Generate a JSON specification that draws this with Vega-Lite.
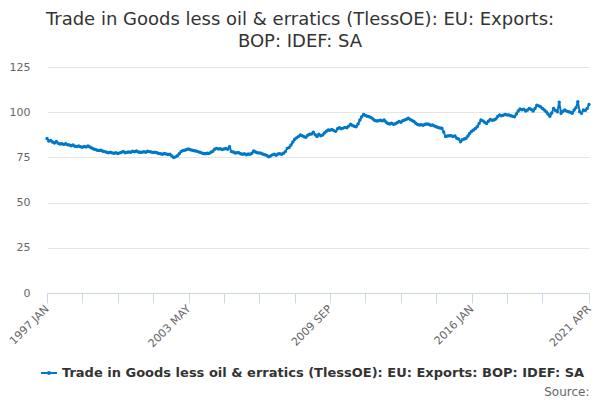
{
  "$schema": "https://vega.github.io/schema/vega-lite/v6.json",
  "width": 542,
  "height": 226,
  "autosize": "none",
  "padding": {"left": 47, "top": 67, "right": 11, "bottom": 107},
  "background": "white",
  "config": {"view": {"stroke": null}, "font": "DejaVu Sans"},
  "title": {
    "text": ["Trade in Goods less oil & erratics (TlessOE): EU: Exports:", "BOP: IDEF: SA"],
    "fontSize": 18, "fontWeight": "normal", "color": "#333333", "font": "DejaVu Sans",
    "anchor": "middle", "dx": -18, "lineHeight": 22, "offset": 10
  },
  "data": {"values": [
{"t":"1997 JAN","v":85.5},{"t":"1997 FEB","v":84},{"t":"1997 MAR","v":84.3},{"t":"1997 APR","v":83.5},{"t":"1997 MAY","v":83},{"t":"1997 JUN","v":83.8},{"t":"1997 JUL","v":82.8},{"t":"1997 AUG","v":82.4},{"t":"1997 SEP","v":82.6},{"t":"1997 OCT","v":82.2},{"t":"1997 NOV","v":82.5},{"t":"1997 DEC","v":82.0},
{"t":"1998 JAN","v":81.8},{"t":"1998 FEB","v":81.5},{"t":"1998 MAR","v":81.8},{"t":"1998 APR","v":81.2},{"t":"1998 MAY","v":81.0},{"t":"1998 JUN","v":81.3},{"t":"1998 JUL","v":80.9},{"t":"1998 AUG","v":80.6},{"t":"1998 SEP","v":81.0},{"t":"1998 OCT","v":80.8},{"t":"1998 NOV","v":81.3},{"t":"1998 DEC","v":80.7},
{"t":"1999 JAN","v":80.2},{"t":"1999 FEB","v":79.6},{"t":"1999 MAR","v":79.4},{"t":"1999 APR","v":79.0},{"t":"1999 MAY","v":78.8},{"t":"1999 JUN","v":78.9},{"t":"1999 JUL","v":78.4},{"t":"1999 AUG","v":78.2},{"t":"1999 SEP","v":77.9},{"t":"1999 OCT","v":77.6},{"t":"1999 NOV","v":77.8},{"t":"1999 DEC","v":77.5},
{"t":"2000 JAN","v":77.3},{"t":"2000 FEB","v":77.6},{"t":"2000 MAR","v":77.1},{"t":"2000 APR","v":77.5},{"t":"2000 MAY","v":77.8},{"t":"2000 JUN","v":78.3},{"t":"2000 JUL","v":77.6},{"t":"2000 AUG","v":77.9},{"t":"2000 SEP","v":78.0},{"t":"2000 OCT","v":77.8},{"t":"2000 NOV","v":78.4},{"t":"2000 DEC","v":78.1},
{"t":"2001 JAN","v":78.5},{"t":"2001 FEB","v":78.0},{"t":"2001 MAR","v":77.8},{"t":"2001 APR","v":77.8},{"t":"2001 MAY","v":78.1},{"t":"2001 JUN","v":77.9},{"t":"2001 JUL","v":78.4},{"t":"2001 AUG","v":78.2},{"t":"2001 SEP","v":78.0},{"t":"2001 OCT","v":77.7},{"t":"2001 NOV","v":77.9},{"t":"2001 DEC","v":77.6},
{"t":"2002 JAN","v":77.2},{"t":"2002 FEB","v":77.0},{"t":"2002 MAR","v":76.7},{"t":"2002 APR","v":77.1},{"t":"2002 MAY","v":76.9},{"t":"2002 JUN","v":76.6},{"t":"2002 JUL","v":76.7},{"t":"2002 AUG","v":75.8},{"t":"2002 SEP","v":75.0},{"t":"2002 OCT","v":75.3},{"t":"2002 NOV","v":75.9},{"t":"2002 DEC","v":77.0},
{"t":"2003 JAN","v":78.2},{"t":"2003 FEB","v":78.8},{"t":"2003 MAR","v":79.0},{"t":"2003 APR","v":79.4},{"t":"2003 MAY","v":79.6},{"t":"2003 JUN","v":79.2},{"t":"2003 JUL","v":78.9},{"t":"2003 AUG","v":78.7},{"t":"2003 SEP","v":78.5},{"t":"2003 OCT","v":78.2},{"t":"2003 NOV","v":77.8},{"t":"2003 DEC","v":77.5},
{"t":"2004 JAN","v":77.2},{"t":"2004 FEB","v":77.0},{"t":"2004 MAR","v":77.3},{"t":"2004 APR","v":77.1},{"t":"2004 MAY","v":77.8},{"t":"2004 JUN","v":78.4},{"t":"2004 JUL","v":79.5},{"t":"2004 AUG","v":80.0},{"t":"2004 SEP","v":79.7},{"t":"2004 OCT","v":79.8},{"t":"2004 NOV","v":79.4},{"t":"2004 DEC","v":79.6},
{"t":"2005 JAN","v":79.9},{"t":"2005 FEB","v":79.5},{"t":"2005 MAR","v":80.9},{"t":"2005 APR","v":78.2},{"t":"2005 MAY","v":78.0},{"t":"2005 JUN","v":77.4},{"t":"2005 JUL","v":77.6},{"t":"2005 AUG","v":77.6},{"t":"2005 SEP","v":77.0},{"t":"2005 OCT","v":76.7},{"t":"2005 NOV","v":77.0},{"t":"2005 DEC","v":76.5},
{"t":"2006 JAN","v":76.9},{"t":"2006 FEB","v":76.7},{"t":"2006 MAR","v":77.3},{"t":"2006 APR","v":78.5},{"t":"2006 MAY","v":78.0},{"t":"2006 JUN","v":77.6},{"t":"2006 JUL","v":77.5},{"t":"2006 AUG","v":77.3},{"t":"2006 SEP","v":76.8},{"t":"2006 OCT","v":76.5},{"t":"2006 NOV","v":76.0},{"t":"2006 DEC","v":75.4},
{"t":"2007 JAN","v":75.8},{"t":"2007 FEB","v":76.4},{"t":"2007 MAR","v":76.7},{"t":"2007 APR","v":76.2},{"t":"2007 MAY","v":76.9},{"t":"2007 JUN","v":77.0},{"t":"2007 JUL","v":76.8},{"t":"2007 AUG","v":77.3},{"t":"2007 SEP","v":78.2},{"t":"2007 OCT","v":80.0},{"t":"2007 NOV","v":80.5},{"t":"2007 DEC","v":81.9},
{"t":"2008 JAN","v":83.5},{"t":"2008 FEB","v":85.0},{"t":"2008 MAR","v":85.8},{"t":"2008 APR","v":86.5},{"t":"2008 MAY","v":87.4},{"t":"2008 JUN","v":87.0},{"t":"2008 JUL","v":86.4},{"t":"2008 AUG","v":86.1},{"t":"2008 SEP","v":87.2},{"t":"2008 OCT","v":87.8},{"t":"2008 NOV","v":88.0},{"t":"2008 DEC","v":88.9},
{"t":"2009 JAN","v":87.5},{"t":"2009 FEB","v":86.5},{"t":"2009 MAR","v":87.8},{"t":"2009 APR","v":87.0},{"t":"2009 MAY","v":87.4},{"t":"2009 JUN","v":88.5},{"t":"2009 JUL","v":89.5},{"t":"2009 AUG","v":90.2},{"t":"2009 SEP","v":90.0},{"t":"2009 OCT","v":90.5},{"t":"2009 NOV","v":89.8},{"t":"2009 DEC","v":89.4},
{"t":"2010 JAN","v":90.8},{"t":"2010 FEB","v":91.4},{"t":"2010 MAR","v":90.9},{"t":"2010 APR","v":91.2},{"t":"2010 MAY","v":91.6},{"t":"2010 JUN","v":91.4},{"t":"2010 JUL","v":92.3},{"t":"2010 AUG","v":93.3},{"t":"2010 SEP","v":92.6},{"t":"2010 OCT","v":92.2},{"t":"2010 NOV","v":92.0},{"t":"2010 DEC","v":93.5},
{"t":"2011 JAN","v":95.7},{"t":"2011 FEB","v":97.5},{"t":"2011 MAR","v":98.8},{"t":"2011 APR","v":98.2},{"t":"2011 MAY","v":97.8},{"t":"2011 JUN","v":97.5},{"t":"2011 JUL","v":97.0},{"t":"2011 AUG","v":96.2},{"t":"2011 SEP","v":95.4},{"t":"2011 OCT","v":95.1},{"t":"2011 NOV","v":95.3},{"t":"2011 DEC","v":95.5},
{"t":"2012 JAN","v":95.2},{"t":"2012 FEB","v":95.7},{"t":"2012 MAR","v":94.6},{"t":"2012 APR","v":93.8},{"t":"2012 MAY","v":93.5},{"t":"2012 JUN","v":93.9},{"t":"2012 JUL","v":93.3},{"t":"2012 AUG","v":93.6},{"t":"2012 SEP","v":94.2},{"t":"2012 OCT","v":94.8},{"t":"2012 NOV","v":94.5},{"t":"2012 DEC","v":95.3},
{"t":"2013 JAN","v":95.7},{"t":"2013 FEB","v":96.1},{"t":"2013 MAR","v":96.6},{"t":"2013 APR","v":96.0},{"t":"2013 MAY","v":95.4},{"t":"2013 JUN","v":94.8},{"t":"2013 JUL","v":93.9},{"t":"2013 AUG","v":93.2},{"t":"2013 SEP","v":92.9},{"t":"2013 OCT","v":93.0},{"t":"2013 NOV","v":92.8},{"t":"2013 DEC","v":93.3},
{"t":"2014 JAN","v":93.5},{"t":"2014 FEB","v":93.3},{"t":"2014 MAR","v":92.8},{"t":"2014 APR","v":92.9},{"t":"2014 MAY","v":92.4},{"t":"2014 JUN","v":91.9},{"t":"2014 JUL","v":91.5},{"t":"2014 AUG","v":91.3},{"t":"2014 SEP","v":91.1},{"t":"2014 OCT","v":89.0},{"t":"2014 NOV","v":86.5},{"t":"2014 DEC","v":86.8},
{"t":"2015 JAN","v":87.0},{"t":"2015 FEB","v":87.0},{"t":"2015 MAR","v":86.6},{"t":"2015 APR","v":86.9},{"t":"2015 MAY","v":85.6},{"t":"2015 JUN","v":85.2},{"t":"2015 JUL","v":83.7},{"t":"2015 AUG","v":84.8},{"t":"2015 SEP","v":85.2},{"t":"2015 OCT","v":85.6},{"t":"2015 NOV","v":86.8},{"t":"2015 DEC","v":88.3},
{"t":"2016 JAN","v":89.5},{"t":"2016 FEB","v":90.2},{"t":"2016 MAR","v":91.0},{"t":"2016 APR","v":92.0},{"t":"2016 MAY","v":93.8},{"t":"2016 JUN","v":95.7},{"t":"2016 JUL","v":95.2},{"t":"2016 AUG","v":94.5},{"t":"2016 SEP","v":93.8},{"t":"2016 OCT","v":95.0},{"t":"2016 NOV","v":96.0},{"t":"2016 DEC","v":95.6},
{"t":"2017 JAN","v":95.7},{"t":"2017 FEB","v":96.3},{"t":"2017 MAR","v":97.6},{"t":"2017 APR","v":98.5},{"t":"2017 MAY","v":98.0},{"t":"2017 JUN","v":98.3},{"t":"2017 JUL","v":98.8},{"t":"2017 AUG","v":98.4},{"t":"2017 SEP","v":98.5},{"t":"2017 OCT","v":98.0},{"t":"2017 NOV","v":97.8},{"t":"2017 DEC","v":97.5},
{"t":"2018 JAN","v":99.0},{"t":"2018 FEB","v":100.7},{"t":"2018 MAR","v":101.8},{"t":"2018 APR","v":101.3},{"t":"2018 MAY","v":101.7},{"t":"2018 JUN","v":100.7},{"t":"2018 JUL","v":101.2},{"t":"2018 AUG","v":102.1},{"t":"2018 SEP","v":101.5},{"t":"2018 OCT","v":100.7},{"t":"2018 NOV","v":102.0},{"t":"2018 DEC","v":103.8},
{"t":"2019 JAN","v":103.5},{"t":"2019 FEB","v":103.0},{"t":"2019 MAR","v":102.1},{"t":"2019 APR","v":101.2},{"t":"2019 MAY","v":100.3},{"t":"2019 JUN","v":99.0},{"t":"2019 JUL","v":97.8},{"t":"2019 AUG","v":99.5},{"t":"2019 SEP","v":102.1},{"t":"2019 OCT","v":101.0},{"t":"2019 NOV","v":100.3},{"t":"2019 DEC","v":105.5},
{"t":"2020 JAN","v":99.4},{"t":"2020 FEB","v":100.5},{"t":"2020 MAR","v":101.2},{"t":"2020 APR","v":100.6},{"t":"2020 MAY","v":100.3},{"t":"2020 JUN","v":100.0},{"t":"2020 JUL","v":99.4},{"t":"2020 AUG","v":101.2},{"t":"2020 SEP","v":102.5},{"t":"2020 OCT","v":105.8},{"t":"2020 NOV","v":100.3},{"t":"2020 DEC","v":99.4},
{"t":"2021 JAN","v":101.2},{"t":"2021 FEB","v":101.0},{"t":"2021 MAR","v":102.0},{"t":"2021 APR","v":104.2}
  ]},
  "mark": {"type": "line", "strokeWidth": 2, "point": {"filled": true, "size": 12}},
  "encoding": {
    "x": {
      "field": "t", "type": "ordinal", "sort": null,
      "scale": {"type": "point", "padding": 0},
      "axis": {
        "values": ["1997 JAN","1998 AUG","2000 MAR","2001 OCT","2003 MAY","2004 DEC","2006 JUL","2008 FEB","2009 SEP","2011 APR","2012 NOV","2014 JUN","2016 JAN","2017 AUG","2019 MAR","2021 APR"],
        "labelExpr": "indexof(['1997 JAN','2003 MAY','2009 SEP','2016 JAN','2021 APR'], datum.value) >= 0 ? datum.value : ''",
        "labelAngle": -45, "labelAlign": "right", "labelBaseline": "middle",
        "labelFontSize": 11, "labelColor": "#666666", "labelPadding": 4,
        "labelOverlap": false,
        "domainColor": "#ccd6eb", "tickColor": "#ccd6eb", "tickSize": 10,
        "grid": false,
        "title": "Source:", "titleFontSize": 12, "titleFontWeight": "normal", "titleColor": "#666666",
        "titleAnchor": "end", "titleAlign": "right", "titleBaseline": "alphabetic",
        "titleX": 542, "titleY": 102
      }
    },
    "y": {
      "field": "v", "type": "quantitative",
      "scale": {"domain": [0, 125], "nice": false, "zero": true},
      "axis": {
        "values": [0, 25, 50, 75, 100, 125],
        "domain": false, "ticks": false, "gridColor": "#e6e6e6",
        "labelFontSize": 11, "labelColor": "#666666", "labelPadding": 17,
        "title": null
      }
    },
    "color": {
      "datum": "Trade in Goods less oil & erratics (TlessOE): EU: Exports: BOP: IDEF: SA",
      "type": "nominal",
      "scale": {"range": ["#0078c8"]},
      "legend": {
        "orient": "none", "legendX": -6, "legendY": 298,
        "title": null,
        "labelFontSize": 13, "labelFontWeight": "bold", "labelColor": "#333333",
        "labelLimit": 0, "labelOffset": 5,
        "symbolType": "M-1,-0.125H1V0.125H-1Z M-0.25,0A0.25,0.25 0 1,1 0.25,0A0.25,0.25 0 1,1 -0.25,0Z",
        "symbolSize": 256, "symbolStrokeWidth": 0,
        "symbolFillColor": "#0078c8", "symbolStrokeColor": "#0078c8",
        "encode": {"symbols": {"update": {"fill": {"value": "#0078c8"}, "stroke": {"value": "#0078c8"}, "strokeWidth": {"value": 0}}}}
      }
    }
  }
}
